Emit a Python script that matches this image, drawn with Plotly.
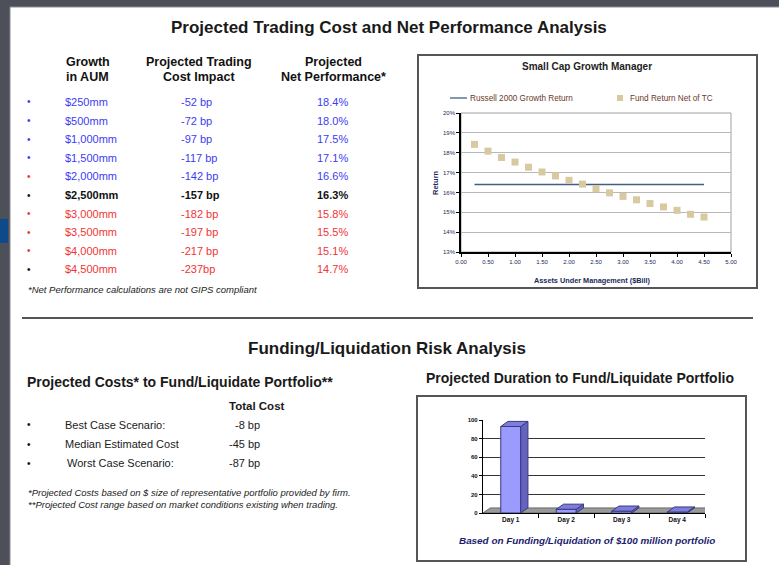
import plotly.graph_objects as go

W, H = 779, 565

# ---------------- data ----------------
aum_labels = ["$250mm", "$500mm", "$1,000mm", "$1,500mm", "$2,000mm",
              "$2,500mm", "$3,000mm", "$3,500mm", "$4,000mm", "$4,500mm"]
cost_labels = ["-52 bp", "-72 bp", "-97 bp", "-117 bp", "-142 bp",
               "-157 bp", "-182 bp", "-197 bp", "-217 bp", "-237bp"]
net_labels = ["18.4%", "18.0%", "17.5%", "17.1%", "16.6%",
              "16.3%", "15.8%", "15.5%", "15.1%", "14.7%"]

aum_bill = [0.25, 0.50, 0.75, 1.00, 1.25, 1.50, 1.75, 2.00, 2.25,
            2.50, 2.75, 3.00, 3.25, 3.50, 3.75, 4.00, 4.25, 4.50]
fund_return = [18.42, 18.08, 17.76, 17.53, 17.27, 17.03, 16.83, 16.61, 16.42,
               16.19, 15.98, 15.80, 15.63, 15.44, 15.27, 15.10, 14.90, 14.76]
russell_x = [0.25, 4.50]
russell_y = [16.4, 16.4]

scenarios = ["Best Case Scenario:", "Median Estimated Cost", "Worst Case Scenario:"]
scenario_costs = ["-8 bp", "-45 bp", "-87 bp"]

days = ["Day 1", "Day 2", "Day 3", "Day 4"]
day_pct = [93, 4, 2, 1]

# ---------------- helpers ----------------
def px(x):
    return x / W

def py(y):
    return 1 - y / H

FONT = "Liberation Sans, Arial, sans-serif"
BLUE = "#3c3cf4"
RED = "#f23434"
BLACK = "#111111"

fig = go.Figure()
ann = []
shapes = []

def text(x, y, s, size=10, color=BLACK, bold=False, italic=False,
         xanchor="left", angle=0):
    if bold:
        s = "<b>" + s + "</b>"
    if italic:
        s = "<i>" + s + "</i>"
    ann.append(dict(x=px(x), y=py(y), xref="paper", yref="paper", text=s,
                    showarrow=False, xanchor=xanchor, yanchor="middle",
                    textangle=angle,
                    font=dict(family=FONT, size=size, color=color)))

# page background / frame
shapes.append(dict(type="rect", xref="paper", yref="paper",
                   x0=px(10), x1=px(W + 5), y0=py(H + 5), y1=py(7),
                   fillcolor="white", line=dict(color="#8a8c92", width=1),
                   layer="below"))
shapes.append(dict(type="rect", xref="paper", yref="paper",
                   x0=px(0), x1=px(8), y0=py(243), y1=py(219),
                   fillcolor="#0d4a8c", line=dict(width=0), layer="below"))

# ---------------- top section text ----------------
text(389, 28, "Projected Trading Cost and Net Performance Analysis", 17,
     "#1a1a1a", bold=True, xanchor="center")
text(64, 62, "Growth", 12.5, bold=True)
text(64, 77, "in AUM", 12.5, bold=True)
text(199, 62, "Projected Trading", 12.5, bold=True, xanchor="center")
text(199, 77, "Cost Impact", 12.5, bold=True, xanchor="center")
text(333, 62, "Projected", 12.5, bold=True, xanchor="center")
text(333, 77, "Net Performance*", 12.5, bold=True, xanchor="center")

row_colors = [BLUE] * 5 + [BLACK] + [RED] * 4
bullet_colors = [BLUE] * 4 + [RED, BLACK] + [RED] * 3 + [BLACK]
row_y0, row_dy = 102, 18.6
for i in range(len(aum_labels)):
    y = row_y0 + i * row_dy
    b = (i == 5)
    text(25, y, "•", 10, bullet_colors[i])
    text(63, y, aum_labels[i], 11, row_colors[i], bold=b)
    text(179, y, cost_labels[i], 11, row_colors[i], bold=b)
    text(315, y, net_labels[i], 11, row_colors[i], bold=b)
text(26, 289, "*Net Performance calculations are not GIPS compliant", 9.5,
     "#222222", italic=True)

# ---------------- scatter chart ----------------
shapes.append(dict(type="rect", xref="paper", yref="paper",
                   x0=px(418), x1=px(757), y0=py(288), y1=py(55),
                   line=dict(color="#555555", width=2), fillcolor="white",
                   layer="below"))
text(587, 66, "Small Cap Growth Manager", 10, "#222222", bold=True,
     xanchor="center")
text(592, 280, "Assets Under Management ($Bill)", 7.3, "#1a2a5a", bold=True,
     xanchor="center")
text(436, 183, "Return", 7.5, "#1a2a5a", bold=True, xanchor="center", angle=-90)

# manual legend
shapes.append(dict(type="line", xref="paper", yref="paper",
                   x0=px(450), x1=px(467), y0=py(98), y1=py(98),
                   line=dict(color="#3f5f86", width=1.3)))
text(468, 98, "Russell 2000 Growth Return", 8.2, "#6a3a2a")
shapes.append(dict(type="rect", xref="paper", yref="paper",
                   x0=px(617), x1=px(623), y0=py(101), y1=py(95),
                   fillcolor="#d9c9a0", line=dict(width=0)))
text(628, 98, "Fund Return Net of TC", 8.2, "#6a3a2a")

fig.add_trace(go.Scatter(
    x=russell_x, y=russell_y, mode="lines", name="Russell 2000 Growth Return",
    line=dict(color="#3f5f86", width=1.3), xaxis="x", yaxis="y"))
fig.add_trace(go.Scatter(
    x=aum_bill, y=fund_return, mode="markers", name="Fund Return Net of TC",
    marker=dict(symbol="square", size=7, color="#d9c9a0"),
    xaxis="x", yaxis="y"))

# plot area outline (gray, top/right)
shapes.append(dict(type="rect", xref="paper", yref="paper",
                   x0=px(461), x1=px(731), y0=py(252), y1=py(113),
                   line=dict(color="#a0a0a0", width=1), layer="below"))

# ---------------- separator ----------------
shapes.append(dict(type="line", xref="paper", yref="paper",
                   x0=px(22), x1=px(753), y0=py(318), y1=py(318),
                   line=dict(color="#555555", width=2)))

# ---------------- bottom section text ----------------
text(387, 348, "Funding/Liquidation Risk Analysis", 17, "#1a1a1a",
     bold=True, xanchor="center")
text(25, 382, "Projected Costs* to Fund/Liquidate Portfolio**", 14,
     "#1a1a1a", bold=True)
text(257, 406, "Total Cost", 11.5, "#1a1a1a", bold=True, xanchor="center")
for i, (s, c) in enumerate(zip(scenarios, scenario_costs)):
    y = 425 + i * 19
    text(25, y, "•", 10, BLACK)
    text(63 if i < 2 else 65, y, s, 11, "#1a1a1a")
    text(262, y, c, 11, "#1a1a1a", xanchor="right")
text(26, 492, "*Projected Costs based on $ size of representative portfolio provided by firm.",
     9.5, "#222222", italic=True)
text(26, 504, "**Projected Cost range based on market conditions existing when trading.",
     9.5, "#222222", italic=True)

text(580, 378, "Projected Duration to Fund/Liquidate Portfolio", 14,
     "#1a1a1a", bold=True, xanchor="center")
shapes.append(dict(type="rect", xref="paper", yref="paper",
                   x0=px(417), x1=px(746), y0=py(561), y1=py(396),
                   line=dict(color="#555555", width=2), fillcolor="white",
                   layer="below"))
text(587, 540, "Based on Funding/Liquidation of $100 million portfolio", 9.9,
     "#1c1c6e", bold=True, italic=True, xanchor="center")

# ---------------- 3D-ish bar chart ----------------
xpos = [i + 1 for i in range(len(days))]
bw = 0.36     # front face width (category units)
ddx = 0.13    # depth offset in x
ddy = 5.5     # depth offset in y

# floor
shapes.append(dict(type="path", xref="x2", yref="y2",
                   path=f"M 0.5 0 L 4.5 0 L {4.5 + ddx} {ddy} L {0.5 + ddx} {ddy} Z",
                   fillcolor="#9a9a9a", line=dict(color="#555555", width=0.8),
                   layer="below"))

fig.add_trace(go.Bar(
    x=xpos, y=day_pct, width=bw, marker=dict(color="#9b9bff",
                                             line=dict(color="#3a3a7a", width=1)),
    xaxis="x2", yaxis="y2", showlegend=False, hoverinfo="skip"))
for xc, v in zip(xpos, day_pct):
    xl, xr = xc - bw / 2, xc + bw / 2
    # side face
    fig.add_trace(go.Scatter(
        x=[xr, xr + ddx, xr + ddx, xr, xr], y=[0, ddy, v + ddy, v, 0],
        fill="toself", fillcolor="#6464c0", mode="lines",
        line=dict(color="#3a3a7a", width=1), xaxis="x2", yaxis="y2",
        showlegend=False, hoverinfo="skip"))
    # top face
    fig.add_trace(go.Scatter(
        x=[xl, xl + ddx, xr + ddx, xr, xl], y=[v, v + ddy, v + ddy, v, v],
        fill="toself", fillcolor="#7d7dde", mode="lines",
        line=dict(color="#3a3a7a", width=1), xaxis="x2", yaxis="y2",
        showlegend=False, hoverinfo="skip"))

fig.update_layout(
    width=W, height=H, margin=dict(l=0, r=0, t=0, b=0, autoexpand=False),
    paper_bgcolor="#4d5058", plot_bgcolor="rgba(0,0,0,0)",
    font=dict(family=FONT),
    annotations=ann, shapes=shapes,
    showlegend=False,
    xaxis=dict(domain=[px(461), px(731)], anchor="y", range=[0, 5],
               dtick=0.5, tick0=0, tickformat=".2f", showgrid=False,
               showline=True, linecolor="black", linewidth=1.5,
               ticks="outside", ticklen=3, tickcolor="black",
               tickfont=dict(size=6, color="#1a2a5a", family=FONT),
               zeroline=False, fixedrange=True),
    yaxis=dict(domain=[py(252), py(113)], anchor="x", range=[13, 20],
               dtick=1, ticksuffix="%", showgrid=True, gridcolor="#b8b8b8",
               gridwidth=1, showline=True, linecolor="black", linewidth=1.5,
               ticks="outside", ticklen=3, tickcolor="black",
               tickfont=dict(size=6, color="#1a2a5a", family=FONT),
               zeroline=False, fixedrange=True),
    xaxis2=dict(domain=[px(483), px(705)], anchor="y2", range=[0.5, 4.5],
                tickvals=xpos, ticktext=["<b>" + d + "</b>" for d in days],
                showgrid=False, showline=True, linecolor="black",
                linewidth=1.2, ticks="",
                minor=dict(tickvals=[1.5, 2.5, 3.5, 4.5], ticks="outside",
                           ticklen=4, tickcolor="black", showgrid=False),
                tickfont=dict(size=6.5, color="#111111", family=FONT),
                zeroline=False, fixedrange=True),
    yaxis2=dict(domain=[py(513), py(420)], anchor="x2", range=[0, 100],
                dtick=20, showgrid=True, gridcolor="#333333", gridwidth=1,
                showline=True, linecolor="black", linewidth=1.2,
                ticks="outside", ticklen=3, tickcolor="black",
                tickprefix="<b>", ticksuffix="</b>",
                tickfont=dict(size=6, color="#111111", family=FONT),
                zeroline=False, fixedrange=True),
    bargap=0.3,
)

fig.write_html("out.html", config={"displayModeBar": False},
               post_script="document.body.style.margin='0';"
                           "document.body.style.background='#4d5058';")
